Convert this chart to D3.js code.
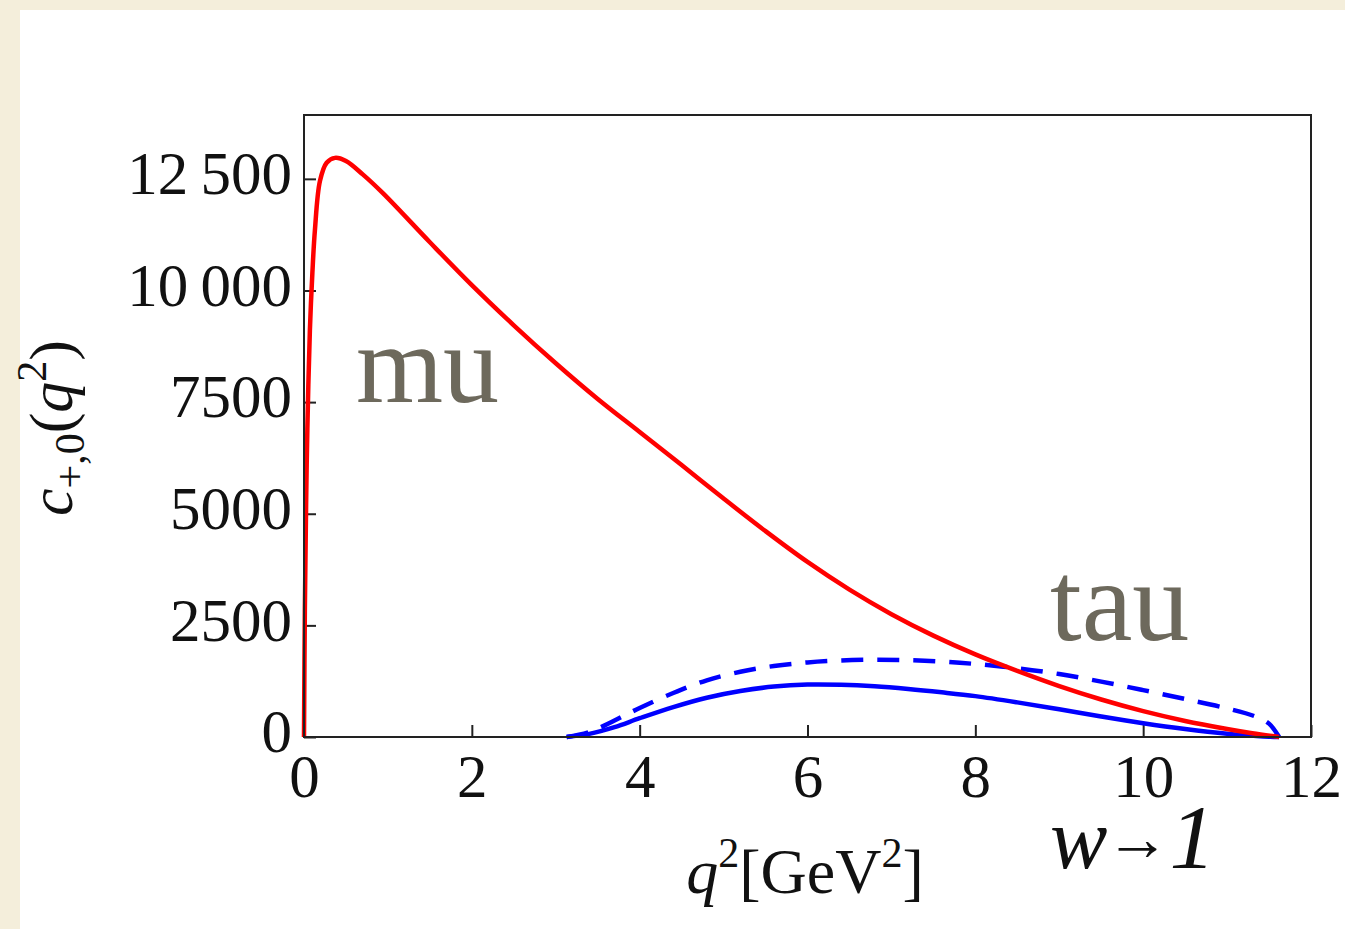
<!DOCTYPE html>
<html>
<head>
<meta charset="utf-8">
<script src="https://cdn.jsdelivr.net/npm/d3@7"></script>
<style>
  html, body { margin: 0; padding: 0; background: #f4eedb; }
  svg { display: block; }
</style>
</head>
<body>
<div class="container"></div>
<script>
// values
const muQ = [0, 0.01, 0.025, 0.04, 0.07, 0.1, 0.13, 0.19, 0.27, 0.37, 0.5, 0.7, 0.94, 1.5, 2, 2.5, 3, 3.5, 4, 4.5, 5, 5.5, 6, 6.5, 7, 7.5, 8, 8.5, 9, 9.5, 10, 10.5, 11, 11.3, 11.62]
const muC = [0, 2800, 5200, 6900, 9100, 10400, 11350, 12450, 12860, 12970, 12900, 12600, 12180, 11080, 10120, 9220, 8370, 7570, 6830, 6090, 5340, 4610, 3920, 3300, 2750, 2270, 1850, 1480, 1140, 840, 580, 360, 180, 85, 0]

const tauQ      = [3.13, 3.4, 3.7, 4, 4.4, 4.8, 5.2, 5.6, 6, 6.4, 6.8, 7.2, 7.6, 8, 8.5, 9, 9.5, 10, 10.5, 11, 11.35, 11.5, 11.62]
const tauSolid  = [0, 70, 220, 420, 670, 880, 1030, 1130, 1175, 1170, 1135, 1075, 1000, 915, 775, 620, 460, 310, 180, 75, 25, 8, 0]
const tauDashed = [0, 110, 370, 650, 985, 1270, 1460, 1590, 1670, 1715, 1730, 1720, 1690, 1635, 1540, 1410, 1240, 1050, 850, 640, 450, 300, 0]

const xTicks = [0, 2, 4, 6, 8, 10, 12]
const yTicks = [0, 2500, 5000, 7500, 10000, 12500]
const yTickLabels = ["0", "2500", "5000", "7500", "10\u2009000", "12\u2009500"]

const width = 1345, height = 929
const plotLeft = 304, plotRight = 1311, plotTop = 115, plotBottom = 737
const serif = "'Liberation Serif', 'Times New Roman', serif"

const svg = d3.select(".container")
              .append("svg")
              .attr("width", width)
              .attr("height", height)

svg.append("rect").attr("width", width).attr("height", height).attr("fill", "#f4eedb")
svg.append("rect").attr("x", 20).attr("y", 10).attr("width", width - 20).attr("height", height - 10).attr("fill", "#ffffff")

const x = d3.scaleLinear().domain([0, 12]).range([plotLeft, plotRight])
const y = d3.scaleLinear().domain([0, 13930]).range([plotBottom, plotTop])

// axes with inward ticks
const xAxis = svg.append("g")
   .attr("transform", "translate(0," + plotBottom + ")")
   .call(d3.axisBottom(x).tickValues(xTicks).tickSize(-12).tickPadding(17).tickFormat(d3.format("d")))
const yAxis = svg.append("g")
   .attr("transform", "translate(" + plotLeft + ",0)")
   .call(d3.axisLeft(y).tickValues(yTicks).tickSize(-12).tickPadding(12)
         .tickFormat((d, i) => yTickLabels[i]))

;[xAxis, yAxis].forEach(ax => {
    ax.select(".domain").remove()
    ax.selectAll("line").attr("stroke", "#222").attr("stroke-width", 2)
    ax.selectAll("text").attr("fill", "#111").style("font-family", serif).style("font-size", "61px")
})
xAxis.selectAll("text").attr("dy", "0.71em")
yAxis.selectAll("text").attr("dy", "0.24em")

// curves
const line = d3.line().x(d => x(d[0])).y(d => y(d[1])).curve(d3.curveCatmullRom.alpha(0.5))

const plot = svg.append("g")
plot.append("path")
    .datum(tauQ.map((q, i) => [q, tauDashed[i]]))
    .attr("d", line).attr("fill", "none").attr("stroke", "#0000ff")
    .attr("stroke-width", 4.5).attr("stroke-dasharray", "22,14")
plot.append("path")
    .datum(tauQ.map((q, i) => [q, tauSolid[i]]))
    .attr("d", line).attr("fill", "none").attr("stroke", "#0000ff").attr("stroke-width", 4.5)
plot.append("path")
    .datum(muQ.map((q, i) => [q, muC[i]]))
    .attr("d", line).attr("fill", "none").attr("stroke", "#ff0000").attr("stroke-width", 4.5)

// frame
svg.append("rect")
   .attr("x", plotLeft).attr("y", plotTop)
   .attr("width", plotRight - plotLeft).attr("height", plotBottom - plotTop)
   .attr("fill", "none").attr("stroke", "#222").attr("stroke-width", 2)

// axis labels
const xl = svg.append("text")
   .attr("x", 805).attr("y", 893)
   .attr("text-anchor", "middle")
   .style("font-family", serif).style("font-size", "64px").attr("fill", "#111")
xl.append("tspan").text("q").style("font-style", "italic")
xl.append("tspan").text("2").style("font-size", "42px").attr("dy", -26)
xl.append("tspan").text("[GeV").attr("dy", 26)
xl.append("tspan").text("2").style("font-size", "42px").attr("dy", -26)
xl.append("tspan").text("]").attr("dy", 26)

const yl = svg.append("text")
   .attr("transform", "translate(72,428) rotate(-90)")
   .attr("text-anchor", "middle")
   .style("font-family", serif).style("font-size", "62px").attr("fill", "#111")
yl.append("tspan").text("c").style("font-style", "italic")
yl.append("tspan").text("+,0").style("font-size", "42px").attr("dy", 12)
yl.append("tspan").text("(").attr("dy", -12)
yl.append("tspan").text("q").style("font-style", "italic")
yl.append("tspan").text("2").style("font-size", "42px").attr("dy", -26)
yl.append("tspan").text(")").attr("dy", 26)

// annotations
svg.append("text").attr("x", 356).attr("y", 402).text("mu")
   .style("font-family", serif).style("font-size", "112px").attr("fill", "#6d695c")
svg.append("text").attr("x", 1050).attr("y", 640).text("tau")
   .style("font-family", serif).style("font-size", "114px").attr("fill", "#6d695c")

const wl = svg.append("text").attr("x", 1050).attr("y", 868)
   .style("font-family", serif).style("font-size", "86px").attr("fill", "#111")
wl.append("tspan").text("w").style("font-style", "italic")
wl.append("tspan").text("\u2192").style("font-size", "64px").attr("dy", -8).attr("dx", -2)
wl.append("tspan").text("1").style("font-style", "italic").attr("dy", 8).style("font-size", "92px")
</script>
</body>
</html>
